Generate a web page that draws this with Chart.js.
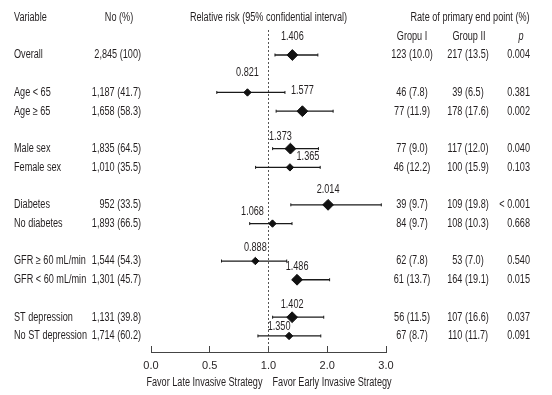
<!DOCTYPE html>
<html><head><meta charset="utf-8">
<script src="https://cdn.jsdelivr.net/npm/chart.js@4.4.1/dist/chart.umd.min.js"></script>
<style>
  html, body { margin: 0; padding: 0; background: #fff; }
  #wrap { width: 552px; height: 395px; position: relative; }
</style>
</head>
<body>
<div id="wrap"><canvas id="forest"></canvas></div>
<script>
// subgroups, each group is followed by one blank row
const groups = [
  ['Overall'],
  ['Age < 65', 'Age \u2265 65'],
  ['Male sex', 'Female sex'],
  ['Diabetes', 'No diabetes'],
  ['GFR \u2265 60 mL/min', 'GFR < 60 mL/min'],
  ['ST depression', 'No ST depression']
];
const patients   = [2845, 1187, 1658, 1835, 1010, 952, 1893, 1544, 1301, 1131, 1714];
const patientPct = [100, 41.7, 58.3, 64.5, 35.5, 33.5, 66.5, 54.3, 45.7, 39.8, 60.2];
const relRisk = [1.406, 0.821, 1.577, 1.373, 1.365, 2.014, 1.068, 0.888, 1.486, 1.402, 1.350];
const ciLow   = [1.11, 0.56, 1.13, 1.07, 0.89, 1.38, 0.84, 0.60, 1.43, 1.07, 0.91];
const ciHigh  = [1.84, 1.28, 2.10, 1.85, 1.88, 2.92, 1.40, 1.31, 2.04, 1.94, 1.89];
const group1Events = [123, 46, 77, 77, 46, 39, 84, 62, 61, 56, 67];
const group1Pct    = [10.0, 7.8, 11.9, 9.0, 12.2, 9.7, 9.7, 7.8, 13.7, 11.5, 8.7];
const group2Events = [217, 39, 178, 117, 100, 109, 108, 53, 164, 107, 110];
const group2Pct    = [13.5, 6.5, 17.6, 12.0, 15.9, 19.8, 10.3, 7.0, 19.1, 16.6, 11.7];
const pValues = ['0.004', '0.381', '0.002', '0.040', '0.103', '< 0.001', '0.668', '0.540', '0.015', '0.037', '0.091'];
const xTicks = [0, 0.5, 1, 2, 3];

// label nudges around the diamonds (px), layout only
const labelDx = [0, 0, 0, -10, 18, 0, -20, 0, 0, 0, -10];
const labelDy = [-18, -20, -21, -12, -11, -15, -12, -13, -13, -13, -9];

const FAMILY = '"Liberation Sans", Arial, sans-serif';
const FONT = '12px ' + FAMILY;
const SQ = 0.76;   // no condensed face installed, squeeze the text instead
const INK = '#231f20';

// flatten groups -> labels + row positions
const labels = [], rows = [];
let r = 0;
groups.forEach(g => { g.forEach(name => { labels.push(name); rows.push(r++); }); r++; });
const Y_MIN = -1.335, Y_MAX = 15.857;

// 0..1 takes half the axis, 1..3 the other half
class SplitScale extends Chart.LinearScale {
  getPixelForValue(value) {
    const u = value <= 1 ? value * 2 : value + 1;
    return this.getPixelForDecimal(u / 4);
  }
  getValueForPixel(pixel) {
    const u = this.getDecimalForPixel(pixel) * 4;
    return u <= 2 ? u / 2 : u - 1;
  }
}
SplitScale.id = 'split';
SplitScale.defaults = Chart.LinearScale.defaults;
Chart.register(SplitScale);

const isSig = p => parseFloat(p.replace('<', '')) < 0.05;
const fmtN = (n, p) => n.toLocaleString('en-US') + ' (' + (p === 100 ? '100' : p.toFixed(1)) + ')';

const ciSets = rows.map((row, i) => ({
  type: 'scatter', showLine: true, order: 1,
  data: [{ x: ciLow[i], y: row }, { x: ciHigh[i], y: row }],
  borderColor: '#1a1a1a', borderWidth: 1.3,
  pointStyle: 'line', rotation: 90, pointRadius: 1.5, pointBorderWidth: 1,
  pointBorderColor: '#1a1a1a'
}));

const textPlugin = {
  id: 'forestText',
  afterDraw(chart) {
    const ctx = chart.ctx, xs = chart.scales.x, ys = chart.scales.y;
    const put = (t, x, y, align) => {
      ctx.save();
      ctx.translate(x, y);
      ctx.scale(SQ, 1);
      ctx.textAlign = align;
      ctx.fillText(t, 0, 0);
      ctx.restore();
    };
    ctx.save();
    ctx.font = FONT;
    ctx.fillStyle = INK;
    ctx.textBaseline = 'middle';
    const hy = ys.getPixelForValue(-2), sy = ys.getPixelForValue(-1);
    const x1 = xs.getPixelForValue(1);
    put('Variable', 14, hy, 'left');
    put('No (%)', 119, hy, 'center');
    put('Relative risk (95% confidential interval)', x1, hy, 'center');
    put('Rate of primary end point (%)', 470, hy, 'center');
    put('Gropu I', 412, sy, 'center');
    put('Group II', 469, sy, 'center');
    ctx.font = 'italic ' + FONT;
    put('p', 521, sy, 'center');
    ctx.font = FONT;
    rows.forEach((row, i) => {
      const y = ys.getPixelForValue(row);
      put(labels[i], 14, y, 'left');
      put(fmtN(patients[i], patientPct[i]), 141, y, 'right');
      put(fmtN(group1Events[i], group1Pct[i]), 412, y, 'center');
      put(fmtN(group2Events[i], group2Pct[i]), 468, y, 'center');
      put(pValues[i], 530, y, 'right');
      put(relRisk[i].toFixed(3), xs.getPixelForValue(relRisk[i]) + labelDx[i], y + labelDy[i], 'center');
    });
    const cy = 383;
    put('Favor Late Invasive Strategy', x1 - 6, cy, 'right');
    put('Favor Early Invasive Strategy', x1 + 4, cy, 'left');
    ctx.restore();
  }
};

new Chart(document.getElementById('forest'), {
  type: 'scatter',
  data: {
    datasets: [
      {
        order: 0,
        data: rows.map((row, i) => ({ x: relRisk[i], y: row })),
        pointStyle: 'rectRot',
        pointRadius: pValues.map(p => isSig(p) ? 5.4 : 3.7),
        pointBorderWidth: 1,
        backgroundColor: '#111',
        borderColor: '#111'
      },
      ...ciSets,
      {
        type: 'scatter', showLine: true, order: 2,
        data: [{ x: 1, y: Y_MIN }, { x: 1, y: Y_MAX }],
        borderColor: '#555', borderWidth: 1, borderDash: [2, 2], pointRadius: 0
      }
    ]
  },
  options: {
    responsive: true,
    maintainAspectRatio: false,
    animation: false,
    devicePixelRatio: 1,
    layout: { padding: { left: 151, right: 166, top: 30, bottom: 0 } },
    plugins: { legend: { display: false }, tooltip: { enabled: false } },
    scales: {
      x: {
        type: 'split', min: 0, max: 3,
        afterBuildTicks: s => { s.ticks = xTicks.map(v => ({ value: v })); },
        afterFit: s => { s.height = 43; },
        ticks: { callback: v => v.toFixed(1), color: INK, padding: 13, font: { family: FAMILY, size: 11 } },
        grid: { drawOnChartArea: false, tickLength: -6, color: '#444', lineWidth: 1 },
        border: { display: true, color: '#444', width: 1 }
      },
      y: { type: 'linear', min: Y_MIN, max: Y_MAX, reverse: true, display: false }
    }
  },
  plugins: [textPlugin]
});
</script>
</body></html>
